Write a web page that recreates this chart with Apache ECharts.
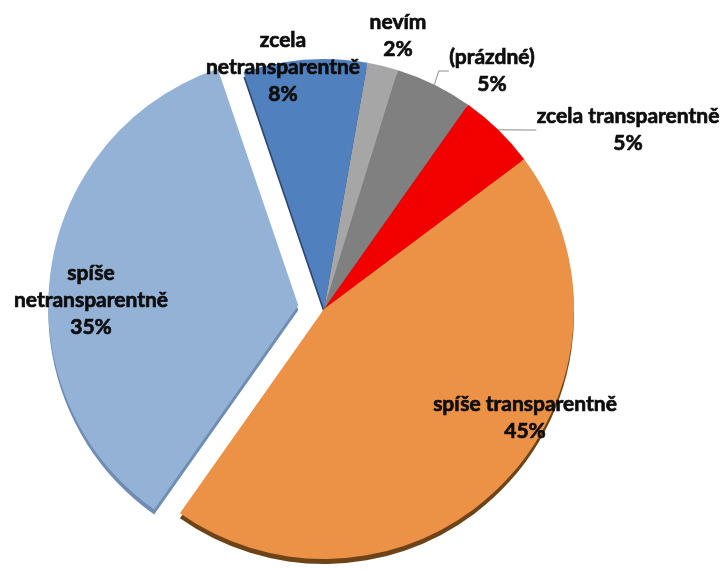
<!DOCTYPE html>
<html>
<head>
<meta charset="utf-8">
<script src="https://cdn.jsdelivr.net/npm/echarts@6/dist/echarts.min.js"></script>
<style>
  html, body { margin: 0; padding: 0; background: #ffffff; }
  #chart { width: 726px; height: 569px; }
</style>
</head>
<body>
<div id="chart"></div>
<script>
// Answers, in clockwise order starting just right of 12 o'clock
const categories = ['nevím', '(prázdné)', 'zcela transparentně', 'spíše transparentně', 'spíše netransparentně', 'zcela netransparentně'];
const shares = [2, 5, 5, 45, 35, 8];
const labelTexts = ['nevím\n2%', '(prázdné)\n5%', 'zcela transparentně\n5%', 'spíše transparentně\n45%', 'spíše\nnetransparentně\n35%', 'zcela\nnetransparentně\n8%'];

// Face and side colours of each slice
const faceColors = ['#A6A6A6', '#808080', '#F20000', '#EC9247', '#94B2D6', '#5080BD'];
const sideColors = ['#7A7A7A', '#555555', '#B00000', '#6E4318', '#6F8DB3', '#2C466B'];
const explodedIndex = 4;

// Where each label block sits (pixel centre in the 726x569 canvas)
const labelSpots = [[398, 36], [492, 71], [628, 130], [525, 418], [91, 300], [283, 67]];
const withLeader = [false, true, true, false, false, false];

const chart = echarts.init(document.getElementById('chart'), null, { renderer: 'canvas' });

const pieCenter = [324, 309];
const pieRadius = 250;
const startAngle = 80;

function slices(colors, exploded) {
  return shares.map((v, i) => ({
    name: categories[i],
    value: v,
    selected: exploded && i === explodedIndex,
    itemStyle: { color: colors[i] },
    labelLine: { show: withLeader[i] }
  }));
}

const facePie = {
  type: 'pie',
  silent: true,
  startAngle: startAngle,
  center: pieCenter,
  radius: pieRadius,
  selectedMode: 'single',
  selectedOffset: 26,
  emphasis: { disabled: true },
  label: { show: false },
  labelLine: { show: false }
};

chart.setOption({
  animation: false,
  backgroundColor: '#ffffff',
  series: [
    // extruded side of the pie, peeking out below the top face
    Object.assign({}, facePie, {
      center: [pieCenter[0], pieCenter[1] + 5],
      data: slices(sideColors, true)
    }),
    // top face
    Object.assign({}, facePie, { data: slices(faceColors, true) }),
    // invisible copy that carries the category labels and leader lines
    {
      type: 'pie',
      silent: true,
      startAngle: startAngle,
      center: pieCenter,
      radius: pieRadius,
      emphasis: { disabled: true },
      itemStyle: { color: 'rgba(0,0,0,0)' },
      label: {
        show: true,
        position: 'outside',
        alignTo: 'none',
        overflow: 'none',
        formatter: p => labelTexts[p.dataIndex],
        fontFamily: 'Lato',
        fontWeight: 'bold',
        fontSize: 21,
        lineHeight: 27,
        color: '#0D0D0D',
        textBorderColor: '#0D0D0D',
        textBorderWidth: 0.7,
        align: 'center'
      },
      labelLine: {
        length: 10,
        length2: 10,
        lineStyle: { color: '#8C8C8C', width: 1 }
      },
      labelLayout: p => ({
        x: labelSpots[p.dataIndex][0],
        y: labelSpots[p.dataIndex][1],
        align: 'center',
        verticalAlign: 'middle'
      }),
      data: slices(faceColors.map(() => 'rgba(0,0,0,0)'), false)
    }
  ]
});
</script>
</body>
</html>
